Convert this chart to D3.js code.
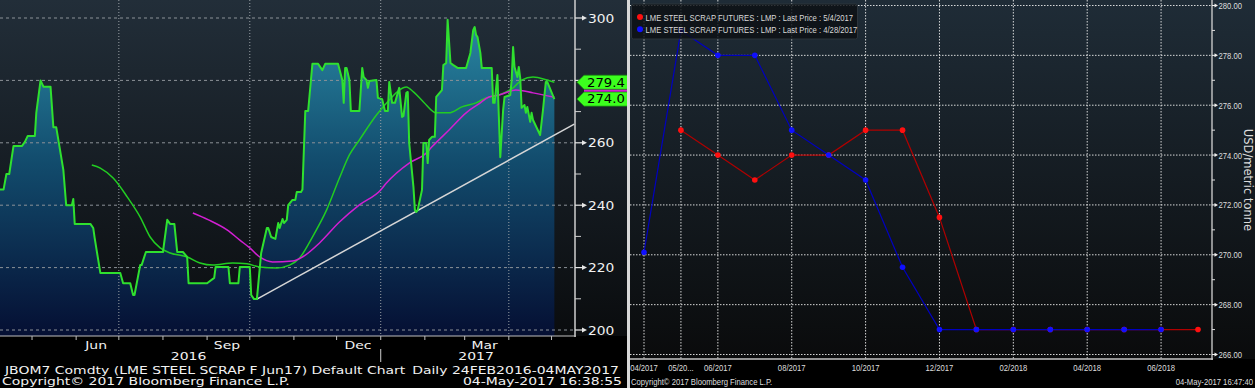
<!DOCTYPE html>
<html><head><meta charset="utf-8">
<script src="https://cdn.jsdelivr.net/npm/d3@7"></script>
<style>html,body{margin:0;padding:0;background:#000;overflow:hidden}</style>
</head><body>
<script>
// ---------- LEFT PANEL DATA (JBOM7 daily) ----------
const priceDates = ["2016-04-08","2016-04-11","2016-04-13","2016-04-15","2016-04-18","2016-04-24","2016-04-26","2016-04-28","2016-05-03","2016-05-04","2016-05-07","2016-05-09","2016-05-14","2016-05-16","2016-05-18","2016-05-23","2016-05-25","2016-05-29","2016-05-30","2016-05-31","2016-06-11","2016-06-13","2016-06-14","2016-06-18","2016-07-02","2016-07-04","2016-07-09","2016-07-11","2016-07-12","2016-07-16","2016-07-17","2016-07-20","2016-08-01","2016-08-04","2016-08-06","2016-08-09","2016-08-11","2016-08-15","2016-08-18","2016-08-19","2016-09-01","2016-09-06","2016-09-07","2016-09-16","2016-09-17","2016-09-23","2016-09-24","2016-10-01","2016-10-02","2016-10-04","2016-10-06","2016-10-09","2016-10-13","2016-10-14","2016-10-16","2016-10-19","2016-10-21","2016-10-22","2016-10-24","2016-10-25","2016-10-27","2016-10-28","2016-10-31","2016-11-02","2016-11-03","2016-11-06","2016-11-07","2016-11-09","2016-11-11","2016-11-14","2016-11-18","2016-11-21","2016-11-23","2016-12-02","2016-12-05","2016-12-06","2016-12-07","2016-12-08","2016-12-10","2016-12-11","2016-12-17","2016-12-19","2016-12-20","2016-12-22","2016-12-23","2016-12-24","2016-12-29","2016-12-30","2017-01-02","2017-01-04","2017-01-06","2017-01-07","2017-01-09","2017-01-11","2017-01-14","2017-01-16","2017-01-17","2017-01-19","2017-01-20","2017-01-21","2017-01-24","2017-01-25","2017-01-26","2017-01-27","2017-01-30","2017-01-31","2017-02-02","2017-02-03","2017-02-04","2017-02-06","2017-02-08","2017-02-09","2017-02-13","2017-02-14","2017-02-16","2017-02-17","2017-02-19","2017-02-21","2017-02-24","2017-03-02","2017-03-05","2017-03-07","2017-03-08","2017-03-09","2017-03-10","2017-03-12","2017-03-13","2017-03-20","2017-03-21","2017-03-22","2017-03-24","2017-03-25","2017-03-26","2017-03-28","2017-03-29","2017-04-02","2017-04-03","2017-04-04","2017-04-05","2017-04-07","2017-04-08","2017-04-09","2017-04-10","2017-04-12","2017-04-13","2017-04-14","2017-04-16","2017-04-17","2017-04-18","2017-04-23","2017-04-25","2017-04-27","2017-04-28","2017-05-03"];
const priceValues = [245,245,250,250,259,259,260.3,262.2,262.2,269.6,280,278,278,265,265,251.3,240,240,242,234,234,232.7,229.5,218.3,218.3,215,215,211.2,211.2,220.8,220.8,225,225,235.3,234,234,225,225,223.4,215,215,216.7,220.2,220.2,215,215,220.2,220.2,211.2,209.9,209.9,224.7,232.7,232.7,229.8,229.2,234.3,232.7,235.6,234.3,235.3,240,241.7,241.7,244.2,244.2,245,270.2,270.2,285.3,285.3,283.3,285.3,285.3,280.1,272.8,284,284,280.1,270.2,270.2,284,281.1,280.1,277.6,279.8,280.1,274.4,274,270.2,270.2,279.5,272.8,272.8,277.6,268.3,268.6,276,276.3,259.9,245.8,238.5,237.8,238.5,244.9,259.9,259.9,253.5,260.9,261.9,261.9,274.7,276.9,284.9,285.6,299.4,285.6,284.9,284,284,288.8,296.2,297.1,294.6,293.9,288.8,284,284,272.8,272.8,281.7,268.3,255.4,270.5,274.7,275.3,280.1,290.7,284.3,281.1,284.3,280.8,271.2,272.1,269.6,271.5,266.7,269.6,267.3,262.5,270.5,279.5,279.5,274];
const maGreenDates = ["2016-06-12","2016-06-18","2016-06-27","2016-07-07","2016-07-16","2016-07-23","2016-07-30","2016-08-06","2016-08-18","2016-08-27","2016-09-05","2016-09-19","2016-09-29","2016-10-08","2016-10-20","2016-10-29","2016-11-05","2016-11-14","2016-11-24","2016-12-03","2016-12-10","2016-12-17","2016-12-29","2017-01-07","2017-01-14","2017-01-19","2017-01-24","2017-01-31","2017-02-09","2017-02-18","2017-02-27","2017-03-09","2017-03-16","2017-03-25","2017-04-04","2017-04-10","2017-04-18","2017-04-28","2017-05-03"];
const maGreenValues = [252.9,251.9,248.7,242.6,236.2,229.8,226.3,224.7,223.4,221.5,220.8,221.5,221.2,220.2,219.9,220.8,223.1,229.8,238.5,248.7,256.1,260.9,268.9,273.7,276.9,277.9,276.3,273.1,269.6,269.6,271.5,272.8,274.4,275.3,277.6,280.1,281.1,280.1,279.4];
const maMagentaDates = ["2016-08-22","2016-09-02","2016-09-15","2016-09-24","2016-10-01","2016-10-08","2016-10-17","2016-10-31","2016-11-07","2016-11-19","2016-12-03","2016-12-17","2017-01-01","2017-01-05","2017-01-21","2017-02-02","2017-02-06","2017-02-18","2017-03-02","2017-03-12","2017-03-18","2017-03-25","2017-04-06","2017-04-18","2017-05-03"];
const maMagentaValues = [237.5,235.3,232.1,228.8,226.3,223.4,221.8,222.1,223.4,227.9,234.6,240.1,244.9,247.1,253.5,256.7,258.7,264.1,269.6,272.8,274.7,275.3,276.9,276.0,274.6];
const trendDates = ["2016-10-06","2017-05-17"];
const trendValues = [209.9,266.0];
const leftYTicks = [200,220,240,260,280,300];
const leftYLabelTicks = [200,220,240,260,300];   // 280 is hidden behind the value tags
const leftYMinor = [210,230,250,270,290];
const leftMonthLabels = ["Jun","Sep","Dec","Mar"];
const leftMonthLabelDates = ["2016-06-15","2016-09-15","2016-12-16","2017-03-15"];
const leftYearLabels = ["2016","2017"];
const leftYearLabelDates = ["2016-08-19","2017-03-09"];
const leftGridDates = ["2016-07-01","2016-10-01","2017-01-01","2017-04-01"];
const tagValues = [279.4,274.0];
const tagLabels = ["279.4","274.0"];

// ---------- RIGHT PANEL DATA (futures curve) ----------
const curveMonths = ["04/2017","05/2017","06/2017","07/2017","08/2017","09/2017","10/2017","11/2017","12/2017","01/2018","02/2018","03/2018","04/2018","05/2018","06/2018","07/2018"];
const curveRed  = [null,275,274,273,274,274,275,275,271.5,267,267,267,267,267,267,267];
const curveBlue = [270.1,279,278,278,275,274,273,269.5,267,267,267,267,267,267,267,null];
const seriesNames = ["LME STEEL SCRAP FUTURES : LMP : Last Price : 5/4/2017","LME STEEL SCRAP FUTURES : LMP : Last Price : 4/28/2017"];
const rightXLabelMonths = ["04/2017","05/2017","06/2017","08/2017","10/2017","12/2017","02/2018","04/2018","06/2018"];
const rightXLabelTexts  = ["04/2017","05/20...","06/2017","08/2017","10/2017","12/2017","02/2018","04/2018","06/2018"];
const rightYTicks = [266,268,270,272,274,276,278,280];
const rightYMinor = [267,269,271,273,275,277,279];

// ---------- drawing ----------
const W = 1255, H = 388;
const parse = d3.timeParse("%Y-%m-%d");
const svg = d3.select("body").append("svg").attr("width", W).attr("height", H);
const defs = svg.append("defs");
function vgrad(id, y1, y2, stops) {
  const g = defs.append("linearGradient").attr("id", id).attr("gradientUnits", "userSpaceOnUse")
    .attr("x1", 0).attr("x2", 0).attr("y1", y1).attr("y2", y2);
  stops.forEach(([o, c]) => g.append("stop").attr("offset", o).attr("stop-color", c));
}
vgrad("bgL", 0, 336, [[0, "#222e39"], [1, "#0a0c0e"]]);
vgrad("areaL", 18, 336, [[0, "#2a88a4"], [0.45, "#124c6d"], [1, "#050f33"]]);
vgrad("bgR", 0, 359, [[0, "#1f2c37"], [1, "#0a0b0c"]]);
defs.append("clipPath").attr("id", "clipL").append("rect").attr("x", 0).attr("y", 0).attr("width", 575).attr("height", 336);
defs.append("clipPath").attr("id", "clipR").append("rect").attr("x", 630).attr("y", 0).attr("width", 625).attr("height", 388);

function txt(g, s, x, y, o) {
  return g.append("text").attr("transform", `translate(${x},${y}) scale(${o.sx || 1},1)`)
    .attr("font-family", o.f).attr("font-size", o.fs).attr("text-anchor", o.a || "start")
    .attr("fill", o.c || "#f0f0f0").text(s);
}
const LF = {f: "DejaVu Sans", fs: 11, sx: 1.27, c: "#f2f2f2"};
const RF = {f: "Liberation Sans", fs: 9.6, sx: 0.8, c: "#dedede"};

svg.append("rect").attr("width", W).attr("height", H).attr("fill", "#000");

// ===== LEFT =====
const gL = svg.append("g");
gL.append("rect").attr("x", 0).attr("y", 0).attr("width", 627).attr("height", 336).attr("fill", "url(#bgL)");
const xL = d3.scaleTime().domain([new Date(2016, 3, 8, 12), new Date(2017, 4, 17, 12)]).range([0, 575]);
const yL = d3.scaleLinear().domain([200, 300]).range([330, 18]);
const price = priceDates.map((d, i) => ({date: parse(d), v: priceValues[i]}));
const maG = maGreenDates.map((d, i) => ({date: parse(d), v: maGreenValues[i]}));
const maM = maMagentaDates.map((d, i) => ({date: parse(d), v: maMagentaValues[i]}));
const trend = trendDates.map((d, i) => ({date: parse(d), v: trendValues[i]}));

const plotL = gL.append("g").attr("clip-path", "url(#clipL)");
plotL.append("path").datum(price)
  .attr("d", d3.area().x(d => xL(d.date)).y0(336).y1(d => yL(d.v)))
  .attr("fill", "url(#areaL)");
// grid
plotL.selectAll(".hg").data(leftYTicks).join("line")
  .attr("x1", 0).attr("x2", 575).attr("y1", d => yL(d)).attr("y2", d => yL(d))
  .attr("stroke", "#8c9298").attr("stroke-width", 1).attr("stroke-dasharray", "3,3");
plotL.selectAll(".vg").data(leftGridDates).join("line")
  .attr("x1", d => xL(parse(d))).attr("x2", d => xL(parse(d))).attr("y1", 0).attr("y2", 336)
  .attr("stroke", "#9aa0a6").attr("stroke-width", 1).attr("stroke-dasharray", "1,2");
// lines
plotL.append("path").datum(trend).attr("d", d3.line().x(d => xL(d.date)).y(d => yL(d.v)))
  .attr("fill", "none").attr("stroke", "#d6d6d6").attr("stroke-width", 1.5);
plotL.append("path").datum(maG).attr("d", d3.line().curve(d3.curveMonotoneX).x(d => xL(d.date)).y(d => yL(d.v)))
  .attr("fill", "none").attr("stroke", "#22cc22").attr("stroke-width", 1.5);
plotL.append("path").datum(maM).attr("d", d3.line().curve(d3.curveMonotoneX).x(d => xL(d.date)).y(d => yL(d.v)))
  .attr("fill", "none").attr("stroke", "#d21fd2").attr("stroke-width", 1.5);
plotL.append("path").datum(price).attr("d", d3.line().x(d => xL(d.date)).y(d => yL(d.v)))
  .attr("fill", "none").attr("stroke", "#2fe02f").attr("stroke-width", 2).attr("stroke-linejoin", "round");

// axes
gL.append("line").attr("x1", 575).attr("x2", 575).attr("y1", 0).attr("y2", 337).attr("stroke", "#cfcfcf").attr("stroke-width", 1.5);
gL.append("line").attr("x1", 0).attr("x2", 576).attr("y1", 336).attr("y2", 336).attr("stroke", "#bfbfbf").attr("stroke-width", 1);
leftYTicks.forEach(t => {
  const y = yL(t);
  gL.append("line").attr("x1", 575).attr("x2", 583).attr("y1", y).attr("y2", y).attr("stroke", "#e6e6e6").attr("stroke-width", 1.2);
  gL.append("path").attr("d", `M582,${y - 2.5}L587,${y}L582,${y + 2.5}Z`).attr("fill", "#e6e6e6");
});
leftYLabelTicks.forEach(t => txt(gL, String(t), 588, yL(t) + 4.5, {...LF, sx: 1.2, fs: 11.5}));
leftYMinor.forEach(t => {
  const y = yL(t);
  gL.append("line").attr("x1", 575).attr("x2", 581).attr("y1", y).attr("y2", y).attr("stroke", "#d0d0d0").attr("stroke-width", 1);
});
d3.timeMonth.range(new Date(2016, 4, 1), new Date(2017, 5, 1)).forEach(m => {
  const x = xL(m);
  gL.append("line").attr("x1", x).attr("x2", x).attr("y1", 336).attr("y2", 340).attr("stroke", "#bdbdbd").attr("stroke-width", 1);
});
leftMonthLabels.forEach((s, i) => txt(gL, s, xL(parse(leftMonthLabelDates[i])), 349, {...LF, a: "middle"}));
leftYearLabels.forEach((s, i) => txt(gL, s, xL(parse(leftYearLabelDates[i])), 360, {...LF, a: "middle"}));
{
  const xs = xL(parse("2017-01-01"));
  gL.append("line").attr("x1", xs).attr("x2", xs).attr("y1", 349).attr("y2", 362).attr("stroke", "#cfcfcf").attr("stroke-width", 1);
}
txt(gL, "JBOM7 Comdty (LME STEEL SCRAP F Jun17) Default Chart", 5, 374, LF);
txt(gL, "Daily 24FEB2016-04MAY2017", 619, 374, {...LF, a: "end"});
txt(gL, "Copyright\u00a9 2017 Bloomberg Finance L.P.", 2, 385, LF);
txt(gL, "04-May-2017 16:38:55", 622, 385, {...LF, a: "end"});

// value tags
const tagG = gL.append("g");
const tagYs = [yL(tagValues[0]), yL(tagValues[1])];
tagYs.forEach((y, i) => {
  tagG.append("path").attr("d", `M577,${y}L584,${y - 7}L628,${y - 7}L628,${y + 7}L584,${y + 7}Z`)
    .attr("fill", "#3cff1e").attr("stroke", "#1c9a12").attr("stroke-width", 0.8);
  txt(tagG, tagLabels[i], 587, y + 4.3, {f: "DejaVu Sans", fs: 11.5, sx: 1.15, c: "#000"});
});
tagG.append("rect").attr("x", 584).attr("y", (tagYs[0] + tagYs[1]) / 2 - 1).attr("width", 44).attr("height", 2).attr("fill", "#d21fd2");

// separator
svg.append("rect").attr("x", 627).attr("y", 0).attr("width", 3).attr("height", H).attr("fill", "#d8d8d8");

// ===== RIGHT =====
const gR = svg.append("g").attr("clip-path", "url(#clipR)");
gR.append("rect").attr("x", 630).attr("y", 0).attr("width", 625).attr("height", 359).attr("fill", "url(#bgR)");
const xR = d3.scalePoint().domain(curveMonths).range([644, 1198]);
const yR = d3.scaleLinear().domain([266, 280]).range([354.5, 5.5]);
// grid
gR.selectAll(".rhg").data(rightYTicks).join("line")
  .attr("x1", 630).attr("x2", 1212).attr("y1", d => yR(d)).attr("y2", d => yR(d))
  .attr("stroke", "#ececec").attr("stroke-width", 1).attr("stroke-dasharray", "1.5,1.5").attr("opacity", 0.9);
gR.selectAll(".rvg").data(rightXLabelMonths).join("line")
  .attr("x1", d => xR(d)).attr("x2", d => xR(d)).attr("y1", 0).attr("y2", 359)
  .attr("stroke", "#ececec").attr("stroke-width", 1).attr("stroke-dasharray", "1.5,1.5").attr("opacity", 0.9);
// series
const lineR = d3.line().defined(d => d.v != null).x(d => xR(d.m)).y(d => yR(d.v));
const redData = curveMonths.map((m, i) => ({m, v: curveRed[i]}));
const blueData = curveMonths.map((m, i) => ({m, v: curveBlue[i]}));
gR.append("path").datum(redData).attr("d", lineR).attr("fill", "none").attr("stroke", "#b00000").attr("stroke-width", 1.2);
gR.selectAll(".rp").data(redData.filter(d => d.v != null)).join("circle")
  .attr("cx", d => xR(d.m)).attr("cy", d => yR(d.v)).attr("r", 2.8).attr("fill", "#ff1010");
gR.append("path").datum(blueData).attr("d", lineR).attr("fill", "none").attr("stroke", "#0000c0").attr("stroke-width", 1.2);
gR.selectAll(".bp").data(blueData.filter(d => d.v != null)).join("circle")
  .attr("cx", d => xR(d.m)).attr("cy", d => yR(d.v)).attr("r", 2.8).attr("fill", "#1010ff");
// axes
gR.append("line").attr("x1", 1212).attr("x2", 1212).attr("y1", 0).attr("y2", 360).attr("stroke", "#d4d4d4").attr("stroke-width", 1.3);
gR.append("line").attr("x1", 630).attr("x2", 1213).attr("y1", 359).attr("y2", 359).attr("stroke", "#c4c4c4").attr("stroke-width", 1.3);
rightYTicks.forEach(t => {
  const y = yR(t);
  gR.append("line").attr("x1", 1212).attr("x2", 1215).attr("y1", y).attr("y2", y).attr("stroke", "#eee").attr("stroke-width", 1);
  gR.append("path").attr("d", `M1214.5,${y - 2}L1218,${y}L1214.5,${y + 2}Z`).attr("fill", "#eee");
  txt(gR, t.toFixed(2), 1218.5, y + 3.5, RF);
});
rightYMinor.forEach(t => {
  const y = yR(t);
  gR.append("line").attr("x1", 1212).attr("x2", 1215).attr("y1", y).attr("y2", y).attr("stroke", "#ddd").attr("stroke-width", 1);
});
rightXLabelMonths.forEach((m, i) => txt(gR, rightXLabelTexts[i], xR(m), 370.5, {...RF, a: "middle"}));
gR.append("text").attr("transform", "translate(1244,180) rotate(90)")
  .attr("font-family", "DejaVu Sans").attr("font-size", 11.5).attr("text-anchor", "middle")
  .attr("fill", "#dcdcdc").text("USD/metric tonne");
txt(gR, "Copyright\u00a9 2017 Bloomberg Finance L.P.", 631, 384.5, RF);
txt(gR, "04-May-2017 16:47:40", 1253, 384.5, {...RF, a: "end"});
// legend
const lgG = gR.append("g");
lgG.append("rect").attr("x", 631.5).attr("y", 4).attr("width", 226).attr("height", 35).attr("rx", 2)
  .attr("fill", "#0c1014").attr("fill-opacity", 0.82).attr("stroke", "#2c343b").attr("stroke-width", 1);
const legendColors = ["#ff1010", "#1010ff"];
seriesNames.forEach((s, i) => {
  const cy = 17 + i * 12.2;
  lgG.append("circle").attr("cx", 640).attr("cy", cy).attr("r", 3).attr("fill", legendColors[i]);
  txt(lgG, s, 645.5, cy + 3.5, {...RF, c: "#d8d8d8"});
});
</script>
</body></html>
